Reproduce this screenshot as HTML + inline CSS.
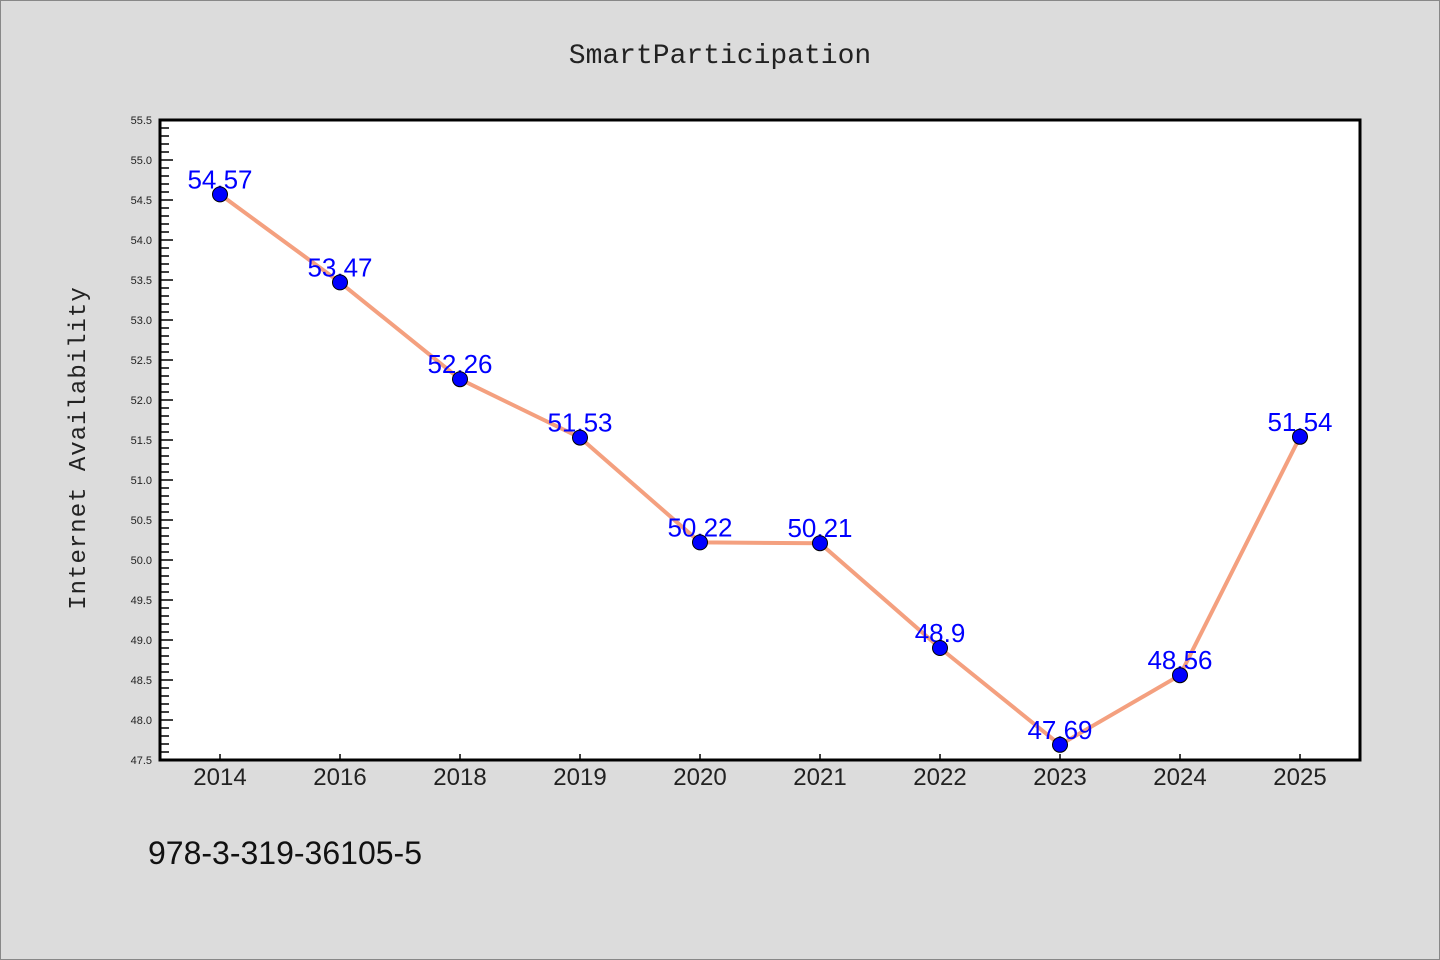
<!DOCTYPE html>
<html><head><meta charset="utf-8"><style>
html,body{margin:0;padding:0;background:#dcdcdc;}
svg{display:block;font-family:"Liberation Sans","WenQuanYi Zen Hei",sans-serif;}
</style></head><body>
<svg id="c" width="1440" height="960">
<rect x="0.5" y="0.5" width="1439" height="959" fill="#dcdcdc" stroke="#888"/>
<text x="720" y="63" text-anchor="middle" font-size="28" fill="#222" font-family="'WenQuanYi Zen Hei','Liberation Mono',monospace">SmartParticipation</text>
<rect x="160" y="120" width="1200" height="640" fill="#fff"/>
<g id="yt"></g>
<g id="xt"></g>
<g id="ser"></g>
<rect x="160" y="120" width="1200" height="640" fill="none" stroke="#000" stroke-width="3"/>
<text transform="translate(85,448) rotate(-90)" text-anchor="middle" font-size="24" fill="#222" font-family="'WenQuanYi Zen Hei','Liberation Mono',monospace" letter-spacing="1">Internet Availability</text>
<text x="148" y="864" font-size="32" fill="#111" font-family="'WenQuanYi Zen Hei','Liberation Sans',sans-serif">978-3-319-36105-5</text>
</svg>
<script>
const categories=["2014","2016","2018","2019","2020","2021","2022","2023","2024","2025"];
const values=[54.57,53.47,52.26,51.53,50.22,50.21,48.9,47.69,48.56,51.54];
const valueLabels=["54.57","53.47","52.26","51.53","50.22","50.21","48.9","47.69","48.56","51.54"];
const yMin=47.5,yMax=55.5;
const L=160,T=120,W=1200,H=640;
const NS="http://www.w3.org/2000/svg";
function y(v){return T+H-(v-yMin)/(yMax-yMin)*H;}
function x(i){return L+W/categories.length*(i+0.5);}
function mk(tag,a,p){const e=document.createElementNS(NS,tag);for(const k in a)e.setAttribute(k,a[k]);p.appendChild(e);return e;}
const yt=document.getElementById('yt'),xt=document.getElementById('xt'),ser=document.getElementById('ser');
for(let k=0;k<=80;k++){const v=yMin+k*0.1;const major=k%5===0;
 const t=mk('line',{x1:L,x2:L+(major?13:9),y1:y(v),y2:y(v),stroke:'#000','stroke-width':1.5},yt);
 
 
 if(major){const tx=mk('text',{x:152,y:y(v)+4,'text-anchor':'end','font-size':11,fill:'#222'},yt);tx.textContent=v.toFixed(1);
 
 }}
categories.forEach((c,i)=>{
 const t=mk('line',{x1:x(i),x2:x(i),y1:T+H,y2:T+H-6,stroke:'#000','stroke-width':1.5},xt);
 
 
 const tx=mk('text',{x:x(i),y:T+H+25,'text-anchor':'middle','font-size':24,fill:'#222'},xt);tx.textContent=c;
 
 });
const pl=mk('polyline',{points:values.map((v,i)=>x(i)+','+y(v)).join(' '),fill:'none',stroke:'#f4a07f','stroke-width':4,'stroke-linejoin':'round'},ser);


values.forEach((v,i)=>{
 const lb=mk('text',{x:x(i),y:y(v)-6,'text-anchor':'middle','font-size':26,fill:'#0000ff'},ser);lb.textContent=valueLabels[i];
 
 
 const d=mk('circle',{cx:x(i),cy:y(v),r:7.5,fill:'#0000ff',stroke:'#000','stroke-width':1},ser);
 
 });
</script>
</body></html>
